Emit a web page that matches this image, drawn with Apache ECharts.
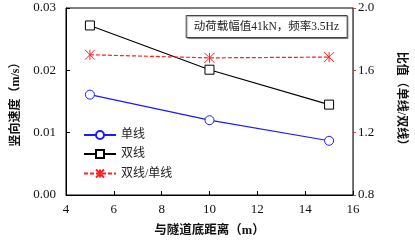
<!DOCTYPE html>
<html>
<head>
<meta charset="utf-8">
<script src="https://cdn.jsdelivr.net/npm/echarts@6/dist/echarts.min.js"></script>
<style>
  html, body { margin: 0; padding: 0; background: #fff; }
  #chart { width: 415px; height: 247px; }
</style>
</head>
<body>
<div id="chart"></div>
<script>
// distance from tunnel bottom (m)
var distance = [5, 10, 15];
var singleLine = [0.0161, 0.0120, 0.0087];
var doubleLine = [0.0272, 0.0201, 0.0145];
var ratio = [1.70, 1.68, 1.685];

var numFont = '"Liberation Serif", "Noto Sans CJK SC", serif';
var cnFont = '"Liberation Serif", "Noto Sans CJK SC", serif';

function pairs(xs, ys) {
    var list = [];
    for (var i = 0; i < xs.length; i++) {
        list.push([xs[i], ys[i]]);
    }
    return list;
}

var chart = echarts.init(document.getElementById('chart'));

chart.setOption({
    animation: false,
    title: {
        text: '动荷载幅值41kN，频率3.5Hz',
        right: 68,
        top: 15,
        padding: [5, 8, 5, 8],
        borderColor: '#444',
        borderWidth: 1,
        shadowColor: 'rgba(0,0,0,0.35)',
        shadowOffsetX: 1,
        shadowOffsetY: 1,
        shadowBlur: 1,
        backgroundColor: '#fff',
        textStyle: {fontFamily: cnFont, fontSize: 11.5, fontWeight: 'normal', color: '#222', lineHeight: 13}
    },
    grid: {
        left: 66, right: 60, top: 8, bottom: 52,
        show: true, borderColor: '#000', borderWidth: 1
    },
    legend: {
        orient: 'vertical',
        left: 78,
        top: 124,
        itemWidth: 32,
        itemHeight: 10,
        itemGap: 7,
        textStyle: {fontFamily: cnFont, fontSize: 12, color: '#222'},
        data: ['单线', '双线', '双线/单线']
    },
    xAxis: {
        type: 'value',
        min: 4, max: 16, interval: 2,
        name: '与隧道底距离（m）',
        nameLocation: 'middle',
        nameGap: 30,
        nameTextStyle: {fontFamily: cnFont, fontSize: 12.5, color: '#111', fontWeight: 'bold'},
        axisLine: {lineStyle: {color: '#000'}},
        axisTick: {inside: true, length: 4, lineStyle: {color: '#000'}},
        axisLabel: {fontFamily: numFont, fontSize: 13, color: '#111', margin: 8},
        splitLine: {show: false}
    },
    yAxis: [{
        type: 'value',
        min: 0, max: 0.03, interval: 0.01,
        name: '竖向速度（m/s）',
        nameLocation: 'middle',
        nameRotate: 90,
        nameGap: 44,
        nameTextStyle: {fontFamily: cnFont, fontSize: 12, color: '#111', fontWeight: 'bold'},
        axisLine: {show: true, lineStyle: {color: '#000'}},
        axisTick: {show: true, inside: true, length: 4, lineStyle: {color: '#000'}},
        axisLabel: {fontFamily: numFont, fontSize: 13, color: '#111', margin: 10,
            formatter: function (v) { return v.toFixed(2); }},
        splitLine: {show: false}
    }, {
        type: 'value',
        min: 0.8, max: 2.0, interval: 0.4,
        position: 'right',
        name: '比值（单线/双线）',
        nameLocation: 'middle',
        nameRotate: -90,
        nameGap: 42,
        nameTextStyle: {fontFamily: cnFont, fontSize: 12, color: '#111', fontWeight: 'bold'},
        axisLine: {show: true, lineStyle: {color: '#e03030'}},
        axisTick: {show: true, inside: false, length: 3, lineStyle: {color: '#e03030'}},
        axisLabel: {fontFamily: numFont, fontSize: 13, color: '#111', margin: 5,
            formatter: function (v) { return v.toFixed(1); }},
        splitLine: {show: false}
    }],
    series: [{
        name: '单线',
        type: 'line',
        yAxisIndex: 0,
        symbol: 'circle',
        symbolSize: 9,
        lineStyle: {color: '#1a1aff', width: 1.2},
        itemStyle: {color: '#fff', borderColor: '#1a1aff', borderWidth: 1},
        data: pairs(distance, singleLine)
    }, {
        name: '双线',
        type: 'line',
        yAxisIndex: 0,
        symbol: 'rect',
        symbolSize: 9,
        lineStyle: {color: '#000', width: 1.2},
        itemStyle: {color: '#fff', borderColor: '#000', borderWidth: 1},
        data: pairs(distance, doubleLine)
    }, {
        name: '双线/单线',
        type: 'line',
        yAxisIndex: 1,
        symbol: 'path://M0,0L10,10M10,0L0,10M5,0L5,10',
        symbolSize: 10,
        lineStyle: {color: '#ff2020', width: 1.2, type: [4, 2]},
        itemStyle: {color: 'none', borderColor: '#ff2020', borderWidth: 1},
        data: pairs(distance, ratio)
    }]
});
</script>
</body>
</html>
